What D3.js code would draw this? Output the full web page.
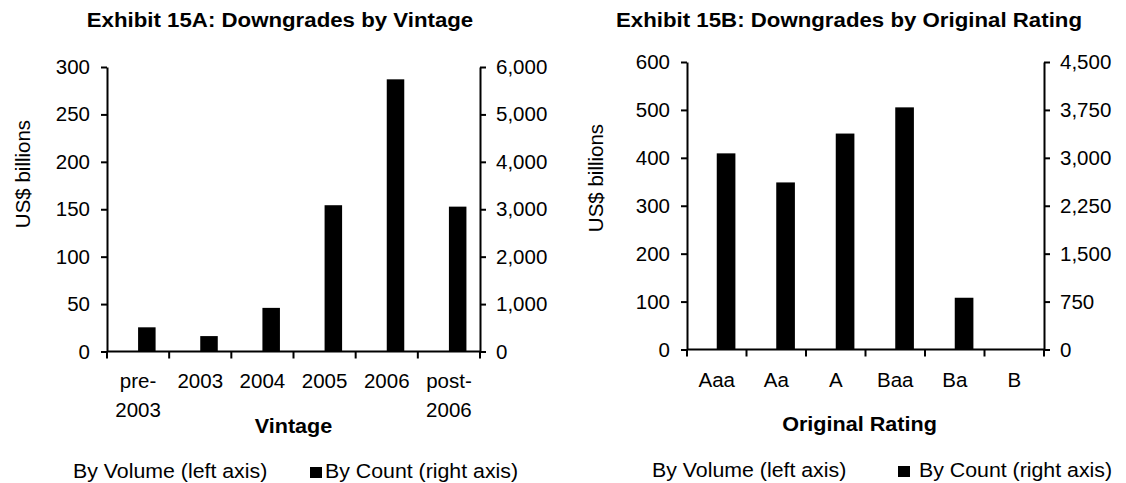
<!DOCTYPE html>
<html>
<head>
<meta charset="utf-8">
<script src="https://cdn.jsdelivr.net/npm/d3@7"></script>
<style>
  html, body { margin: 0; padding: 0; background: #ffffff; }
  svg { display: block; font-family: "Liberation Sans", Arial, sans-serif; }
</style>
</head>
<body>
<svg id="chart" width="1126" height="483"></svg>
<script>
// ---- Data ----
const vintageCategories = [["pre-", "2003"], ["2003"], ["2004"], ["2005"], ["2006"], ["post-", "2006"]];
const vintageCount = [510, 325, 920, 3085, 5740, 3055];
const vintageLeftTicks = [0, 50, 100, 150, 200, 250, 300];
const vintageRightTicks = [0, 1000, 2000, 3000, 4000, 5000, 6000];

const ratingCategories = [["Aaa"], ["Aa"], ["A"], ["Baa"], ["Ba"], ["B"]];
const ratingCount = [3070, 2615, 3380, 3790, 810, 0];
const ratingLeftTicks = [0, 100, 200, 300, 400, 500, 600];
const ratingRightTicks = [0, 750, 1500, 2250, 3000, 3750, 4500];

const seriesNames = ["By Volume (left axis)", "By Count (right axis)"];
const titles = ["Exhibit 15A: Downgrades by Vintage", "Exhibit 15B: Downgrades by Original Rating"];
const xTitles = ["Vintage", "Original Rating"];
const yTitle = "US$ billions";

const svg = d3.select("#chart");
const fmt = d3.format(",");

function stretchText(g, x, y, str, opts) {
  const t = g.append("text")
    .attr("transform", `translate(${x},${y}) scale(${opts.sx || 1},1)`)
    .attr("text-anchor", opts.anchor || "middle")
    .attr("font-size", opts.size)
    .attr("font-weight", opts.weight || "normal")
    .attr("fill", "#000")
    .text(str);
  return t;
}

function panel(cfg) {
  const g = svg.append("g");
  const cats = cfg.categories.map((c, i) => i);
  const x = d3.scaleBand().domain(cats).range([cfg.x0, cfg.x1]).padding(0);
  const sub = d3.scaleBand().domain(seriesNames).range([0, x.bandwidth()])
    .paddingInner(0).paddingOuter(cfg.gap / 2);
  const yL = d3.scaleLinear().domain([0, d3.max(cfg.leftTicks)]).range([cfg.yb, cfg.yt]);
  const yR = d3.scaleLinear().domain([0, d3.max(cfg.rightTicks)]).range([cfg.yb, cfg.yt]);

  // bars (count series, right axis); volume series is drawn white/invisible in the source
  g.append("g").selectAll("rect").data(cfg.count).join("rect")
    .attr("x", (d, i) => x(i) + sub(seriesNames[1]))
    .attr("width", sub.bandwidth())
    .attr("y", d => yR(d))
    .attr("height", d => yR(0) - yR(d))
    .attr("fill", "#000");

  // left axis
  const axL = g.append("g").attr("transform", `translate(${cfg.x0},0)`)
    .call(d3.axisLeft(yL).tickValues(cfg.leftTicks).tickSize(6).tickSizeOuter(0).tickPadding(11).tickFormat(fmt));
  // right axis
  const axR = g.append("g").attr("transform", `translate(${cfg.x1},0)`)
    .call(d3.axisRight(yR).tickValues(cfg.rightTicks).tickSize(6).tickSizeOuter(0).tickPadding(10).tickFormat(fmt));
  // bottom axis: ticks at band boundaries
  const bounds = cats.map(i => x(i)).concat([cfg.x1]);
  const axB = g.append("g").attr("transform", `translate(0,${cfg.yb})`);
  axB.append("line").attr("x1", cfg.x0).attr("x2", cfg.x1).attr("y1", 0).attr("y2", 0)
    .attr("stroke", "#000").attr("stroke-width", 2);
  axB.selectAll("line.tk").data(bounds).join("line").attr("class", "tk")
    .attr("x1", d => d).attr("x2", d => d).attr("y1", 0).attr("y2", 7)
    .attr("stroke", "#000").attr("stroke-width", 2);

  [axL, axR].forEach(a => {
    a.select(".domain").attr("stroke", "#000").attr("stroke-width", 2);
    a.selectAll(".tick line").attr("stroke", "#000").attr("stroke-width", 2);
    a.selectAll(".tick text").attr("font-size", 20.5).attr("fill", "#000")
      .attr("font-family", "'Liberation Sans', Arial, sans-serif");
  });

  // category labels
  cfg.categories.forEach((lines, i) => {
    lines.forEach((ln, j) => {
      stretchText(g, x(i) + x.bandwidth() / 2, cfg.catY + j * 29, ln, { size: 20.5 });
    });
  });

  // titles
  stretchText(g, cfg.titleX, 27, cfg.title, { size: 21, weight: "bold", sx: 1.06 });
  stretchText(g, (cfg.x0 + cfg.x1) / 2 + cfg.xTitleDx, cfg.xTitleY, cfg.xTitle, { size: 20, weight: "bold", sx: 1.08 });

  // y title
  g.append("text")
    .attr("transform", `translate(${cfg.yTitleX},${cfg.yTitleY}) rotate(-90)`)
    .attr("text-anchor", "middle").attr("font-size", 20.5).attr("fill", "#000")
    .text(yTitle);

  // legend
  stretchText(g, cfg.legX0, cfg.legY, seriesNames[0], { size: 20.5, anchor: "start", sx: 1.04 });
  g.append("rect").attr("x", cfg.legMark).attr("y", cfg.legY - 11).attr("width", 12).attr("height", 11).attr("fill", "#000");
  stretchText(g, cfg.legX1, cfg.legY, seriesNames[1], { size: 20.5, anchor: "start", sx: 1.04 });
}

panel({
  categories: vintageCategories, count: vintageCount,
  leftTicks: vintageLeftTicks, rightTicks: vintageRightTicks,
  x0: 107, x1: 480, yt: 67, yb: 351.5, gap: 1.55,
  catY: 388, title: titles[0], titleX: 280, xTitle: xTitles[0], xTitleY: 433, xTitleDx: 0,
  yTitleX: 30, yTitleY: 174,
  legX0: 73, legMark: 310, legX1: 325, legY: 478
});
panel({
  categories: ratingCategories, count: ratingCount,
  leftTicks: ratingLeftTicks, rightTicks: ratingRightTicks,
  x0: 687, x1: 1044, yt: 62, yb: 349.5, gap: 1.19,
  catY: 387, title: titles[1], titleX: 849, xTitle: xTitles[1], xTitleY: 431, xTitleDx: -6,
  yTitleX: 603, yTitleY: 178,
  legX0: 652, legMark: 898, legX1: 919, legY: 477
});
</script>
</body>
</html>
